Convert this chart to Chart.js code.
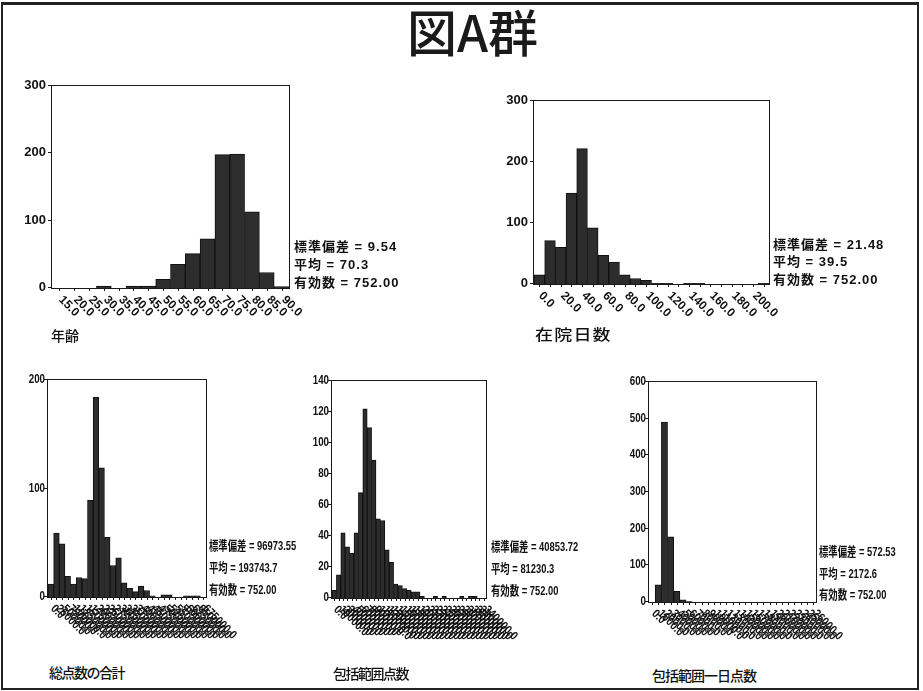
<!DOCTYPE html>
<html>
<head>
<meta charset="utf-8">
<script src="https://cdn.jsdelivr.net/npm/chart.js@4.4.1/dist/chart.umd.min.js"></script>
<style>
  html, body { margin: 0; padding: 0; background: #fff; }
  body { width: 923px; height: 691px; overflow: hidden; position: relative; }
  .pageframe { position: absolute; left: 1px; top: 2px; width: 914px; height: 683px;
    border: 2px solid #222; border-top-width: 3px; }
  .title { position: absolute; left: 0; width: 945px; top: 5px; text-align: center;
    font: 500 50px/50px "Noto Sans CJK JP", sans-serif; color: #1a1a1a; }
  canvas { position: absolute; }
  .stat { position: absolute; white-space: nowrap; line-height: 16px; color: #111;
    font: bold 13px/16px "Liberation Sans", "Noto Sans CJK JP", sans-serif; }
  .wide { letter-spacing: 1px; }
  .narrow { transform: scaleX(0.72); transform-origin: 0 50%; }
  .axtitle { position: absolute; white-space: nowrap; color: #111;
    font: 500 14px/16px "Noto Sans CJK JP", sans-serif; transform-origin: 0 50%; }
</style>
</head>
<body>
<div class="pageframe"></div>
<div class="title">図A群</div>

<script>
// ---------------- data ----------------
const pageTitle = "図A群";

const ageLabels = ["15.0","20.0","25.0","30.0","35.0","40.0","45.0","50.0","55.0","60.0","65.0","70.0","75.0","80.0","85.0","90.0"];
const ageCounts = [0, 0, 0, 3, 0, 3, 3, 13, 35, 51, 73, 198, 199, 113, 23, 2];
const ageStats = ["標準偏差 = 9.54", "平均 = 70.3", "有効数 = 752.00"];
const ageTitle = "年齢";

const stayLabels = ["0.0","10.0","20.0","30.0","40.0","50.0","60.0","70.0","80.0","90.0","100.0",
  "110.0","120.0","130.0","140.0","150.0","160.0","170.0","180.0","190.0","200.0","210.0"];
const stayCounts = [15, 71, 60, 149, 222, 92, 47, 36, 15, 9, 6, 1, 1, 0, 1, 1, 0, 0, 0, 0, 0, 1];
const stayStats = ["標準偏差 = 21.48", "平均 = 39.5", "有効数 = 752.00"];
const stayTitle = "在院日数";

const totalLabels = ["0.0","25000.0","50000.0","75000.0","100000.0","125000.0","150000.0","175000.0",
  "200000.0","225000.0","250000.0","275000.0","300000.0","325000.0","350000.0","375000.0","400000.0",
  "425000.0","450000.0","475000.0","500000.0","525000.0","550000.0","575000.0","600000.0","625000.0",
  "650000.0","675000.0"];
const totalCounts = [12, 59, 49, 19, 12, 18, 17, 89, 184, 119, 55, 29, 36, 13, 8, 5, 10, 6, 1, 0, 2, 2, 0, 0, 1, 1, 1, 0];
const totalStats = ["標準偏差 = 96973.55", "平均 = 193743.7", "有効数 = 752.00"];
const totalTitle = "総点数の合計";

const inclLabels = ["0.0","10000.0","20000.0","30000.0","40000.0","50000.0","60000.0","70000.0",
  "80000.0","90000.0","100000.0","110000.0","120000.0","130000.0","140000.0","150000.0","160000.0",
  "170000.0","180000.0","190000.0","200000.0","210000.0","220000.0","230000.0","240000.0","250000.0",
  "260000.0","270000.0","280000.0","290000.0","300000.0","310000.0","320000.0","330000.0","340000.0"];
const inclCounts = [5, 15, 42, 33, 29, 42, 68, 122, 110, 89, 51, 50, 31, 23, 9, 8, 6, 5, 4, 4, 1, 0, 0, 1, 0, 1, 0, 0, 0, 1, 0, 1, 1, 0, 0];
const inclStats = ["標準偏差 = 40853.72", "平均 = 81230.3", "有効数 = 752.00"];
const inclTitle = "包括範囲点数";

const dailyLabels = ["0.0","1000.0","2000.0","3000.0","4000.0","5000.0","6000.0","7000.0","8000.0",
  "9000.0","10000.0","11000.0","12000.0","13000.0","14000.0","15000.0","16000.0","17000.0","18000.0",
  "19000.0","20000.0","21000.0","22000.0","23000.0","24000.0","25000.0","26000.0"];
const dailyCounts = [0, 47, 491, 178, 29, 6, 1, 0, 0, 0, 0, 0, 0, 0, 0, 0, 0, 0, 0, 0, 0, 0, 0, 0, 0, 0, 0];
const dailyStats = ["標準偏差 = 572.53", "平均 = 2172.6", "有効数 = 752.00"];
const dailyTitle = "包括範囲一日点数";

// ---------------- layout / style ----------------
const WIDE_Y = 'bold 13px "Liberation Sans", Arial, sans-serif';
const WIDE_X = 'bold 12px "Liberation Sans", Arial, sans-serif';

const panels = [
  { labels: ageLabels, counts: ageCounts, yMax: 300, yStep: 100, box: [52, 86, 289, 288],
    sx: 1, xsx: 1, step: 1, yPad: 6, xdy: 10, stats: ageStats, statPos: [294, 247, 265, 283], statCls: 'wide',
    title: ageTitle, titlePos: [51, 335], titleStyle: 'font-size:14px;' },
  { labels: stayLabels, counts: stayCounts, yMax: 300, yStep: 100, box: [534, 101, 769, 284],
    sx: 1, xsx: 1, step: 2, yPad: 6, xdy: 10, stats: stayStats, statPos: [773, 245, 262, 280], statCls: 'wide',
    title: stayTitle, titlePos: [535, 334], titleStyle: 'font-size:15px;letter-spacing:1px;transform:scaleX(1.2);' },
  { labels: totalLabels, counts: totalCounts, yMax: 200, yStep: 100, box: [48, 380, 206, 597],
    sx: 0.75, xsx: 0.85, step: 1, yPad: 3, xdy: 10, stats: totalStats, statPos: [209, 546, 568, 590], statCls: 'narrow',
    title: totalTitle, titlePos: [49, 672], titleStyle: 'font-size:14px;letter-spacing:-1.5px;' },
  { labels: inclLabels, counts: inclCounts, yMax: 140, yStep: 20, box: [332, 381, 486, 598],
    sx: 0.75, xsx: 0.85, step: 1, yPad: 3, xdy: 10, stats: inclStats, statPos: [491, 547, 569, 591], statCls: 'narrow',
    title: inclTitle, titlePos: [333, 673], titleStyle: 'font-size:14px;letter-spacing:-1.5px;' },
  { labels: dailyLabels, counts: dailyCounts, yMax: 600, yStep: 100, box: [649, 382, 816, 602],
    sx: 0.75, xsx: 0.85, step: 1, yPad: 3, xdy: 10, stats: dailyStats, statPos: [819, 552, 574, 595], statCls: 'narrow',
    title: dailyTitle, titlePos: [652, 675], titleStyle: 'font-size:14px;letter-spacing:-1px;' }
];

function makeHist(p) {
  const padL = 50, padT = 12, padR = 50, padB = 60;
  const [L, T, R, B] = p.box;
  const w = (R - L) + padL + padR, h = (B - T) + padT + padB;
  const cv = document.createElement('canvas');
  cv.width = w; cv.height = h;
  cv.style.left = (L - padL) + 'px'; cv.style.top = (T - padT) + 'px';
  cv.style.width = w + 'px'; cv.style.height = h + 'px';
  document.body.appendChild(cv);

  const axisPlugin = {
    id: 'histAxes',
    afterDatasetsDraw(chart) {
      const { ctx, chartArea: a, scales: { x, y } } = chart;
      ctx.save();
      ctx.strokeStyle = '#1a1a1a';
      ctx.lineWidth = 1;
      ctx.strokeRect(a.left - 0.5, a.top - 0.5, a.right - a.left + 1, a.bottom - a.top + 1);
      ctx.fillStyle = '#111';
      // y axis ticks + labels
      ctx.font = WIDE_Y;
      ctx.textAlign = 'right';
      ctx.textBaseline = 'middle';
      y.ticks.forEach(t => {
        const py = Math.round(y.getPixelForValue(t.value)) - 0.5;
        ctx.beginPath(); ctx.moveTo(a.left - 4, py); ctx.lineTo(a.left, py); ctx.stroke();
        ctx.save();
        ctx.translate(a.left - p.yPad, py);
        ctx.scale(p.sx, 1);
        ctx.fillText(String(t.value), 0, 0);
        ctx.restore();
      });
      // x axis ticks + rotated labels
      ctx.font = WIDE_X;
      ctx.textAlign = 'left';
      p.labels.forEach((lab, i) => {
        const px = Math.round(x.getPixelForValue(i)) + 0.5;
        ctx.beginPath(); ctx.moveTo(px, a.bottom); ctx.lineTo(px, a.bottom + 3); ctx.stroke();
        if (i % p.step) return;
        ctx.save();
        ctx.translate(px + 1, a.bottom + p.xdy);
        ctx.rotate(Math.PI / 4);
        ctx.scale(p.xsx, 1);
        ctx.fillText(lab, 0, 0);
        ctx.restore();
      });
      ctx.restore();
    }
  };

  new Chart(cv, {
    type: 'bar',
    data: {
      labels: p.labels,
      datasets: [{
        data: p.counts,
        backgroundColor: '#2d2d2d',
        borderColor: '#111111',
        borderWidth: 1,
        barPercentage: 1,
        categoryPercentage: 1
      }]
    },
    options: {
      responsive: false,
      devicePixelRatio: 1,
      animation: false,
      events: [],
      layout: { padding: { left: padL, top: padT, right: padR, bottom: padB } },
      plugins: { legend: { display: false }, tooltip: { enabled: false } },
      scales: {
        x: { display: false, offset: true, ticks: { autoSkip: false } },
        y: { display: false, min: 0, max: p.yMax, ticks: { stepSize: p.yStep } }
      }
    },
    plugins: [axisPlugin]
  });

  // statistics text
  p.stats.forEach((s, i) => {
    const d = document.createElement('div');
    d.className = 'stat ' + p.statCls;
    d.textContent = s;
    d.style.left = p.statPos[0] + 'px';
    d.style.top = (p.statPos[i + 1] - 8) + 'px';
    document.body.appendChild(d);
  });
  // axis title
  const t = document.createElement('div');
  t.className = 'axtitle';
  t.textContent = p.title;
  t.style.cssText += p.titleStyle;
  t.style.left = p.titlePos[0] + 'px';
  t.style.top = (p.titlePos[1] - 8) + 'px';
  document.body.appendChild(t);
}

panels.forEach(makeHist);
</script>
</body>
</html>
